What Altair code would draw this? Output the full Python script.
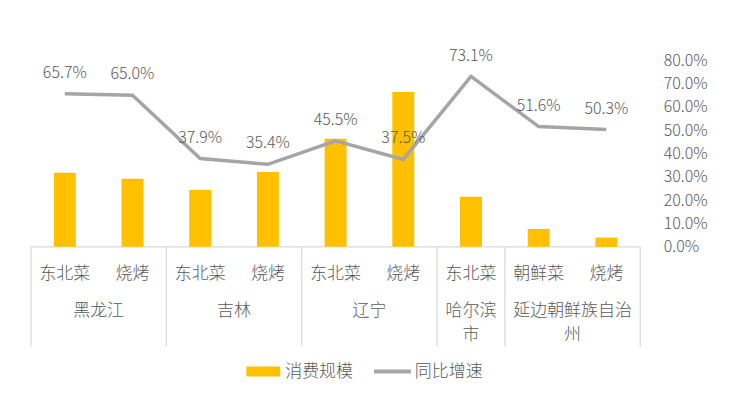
import altair as alt
import pandas as pd

# ---- data ----
sub_labels = ["东北菜", "烧烤", "东北菜", "烧烤", "东北菜", "烧烤", "东北菜", "朝鲜菜", "烧烤"]
group_of = ["黑龙江", "黑龙江", "吉林", "吉林", "辽宁", "辽宁", "哈尔滨市",
            "延边朝鲜族自治州", "延边朝鲜族自治州"]
group_display = {"黑龙江": "黑龙江", "吉林": "吉林", "辽宁": "辽宁",
                 "哈尔滨市": "哈尔滨\n市", "延边朝鲜族自治州": "延边朝鲜族自治\n州"}
scale_values = [74.3, 68.3, 57.0, 75.0, 108.3, 155.3, 50.3, 18.0, 9.3]   # 消费规模 (relative)
growth_values = [0.657, 0.650, 0.379, 0.354, 0.455, 0.375, 0.731, 0.516, 0.503]  # 同比增速
series_names = ["消费规模", "同比增速"]
pct_ticks = [0, 0.1, 0.2, 0.3, 0.4, 0.5, 0.6, 0.7, 0.8]

FONT = "Noto Sans CJK SC"
TXT = "#595959"
BAR = "#FFC000"
LINE = "#A5A5A5"
SEP = "#D9D9D9"

df = pd.DataFrame({
    "idx": list(range(len(sub_labels))),
    "sub": sub_labels,
    "group": group_of,
    "scale": scale_values,
    "growth": growth_values,
})

g = df.groupby("group", sort=False)["idx"].agg(["min", "max"]).reset_index()
g["center"] = (g["min"] + g["max"]) / 2
g["lo"] = g["min"] - 0.5
g["hi"] = g["max"] + 0.5
g["label"] = g["group"].map(group_display)
bounds = pd.DataFrame({"b": sorted(set(g["lo"]).union(set(g["hi"])))})

xs = alt.Scale(domain=[-0.5, len(sub_labels) - 0.5], nice=False, zero=False)
X = alt.X("idx:Q", scale=xs, axis=None)

bars = alt.Chart(df).mark_bar(color=BAR, size=22).encode(
    x=X,
    y=alt.Y("scale:Q", scale=alt.Scale(domain=[0, 187], nice=False), axis=None),
)

line = alt.Chart(df).mark_line(color=LINE, strokeWidth=3.5).encode(
    x=X,
    y=alt.Y("growth:Q", scale=alt.Scale(domain=[0, 0.8], nice=False),
            axis=alt.Axis(orient="right", format=".1%", values=pct_ticks, title=None,
                          ticks=False, domain=False, grid=False, labelPadding=18,
                          labelFontSize=16, labelColor=TXT, labelFont=FONT,
                          labelFontWeight=300)),
)

line_labels = alt.Chart(df).mark_text(dy=-21, fontSize=16, color=TXT, font=FONT,
                                      fontWeight=300).encode(
    x=X,
    y=alt.Y("growth:Q", scale=alt.Scale(domain=[0, 0.8], nice=False), axis=None),
    text=alt.Text("growth:Q", format=".1%"),
)

base_rule = alt.Chart(g).mark_rule(color=SEP, strokeWidth=1.2).encode(
    x=alt.X("lo:Q", scale=xs, axis=None), x2="hi:Q", y=alt.value(187),
)

seps = alt.Chart(bounds).mark_rule(color=SEP, strokeWidth=1.2).encode(
    x=alt.X("b:Q", scale=xs, axis=None), y=alt.value(187), y2=alt.value(287),
)

sub_text = alt.Chart(df).mark_text(fontSize=17, color=TXT, font=FONT, baseline="middle",
                                   fontWeight=300).encode(
    x=X, y=alt.value(214), text="sub:N",
)

group_text = alt.Chart(g).mark_text(fontSize=17, color=TXT, font=FONT, baseline="top",
                                    lineBreak="\n", lineHeight=24, fontWeight=300).encode(
    x=alt.X("center:Q", scale=xs, axis=None), y=alt.value(243), text="label:N",
)

leg = pd.DataFrame({"name": series_names})
leg_rect = alt.Chart(leg.iloc[[0]]).mark_rect(color=BAR).encode(
    x=alt.value(221), x2=alt.value(255), y=alt.value(307), y2=alt.value(317),
)
leg_line = alt.Chart(leg.iloc[[1]]).mark_rule(color=LINE, strokeWidth=4).encode(
    x=alt.value(349), x2=alt.value(386), y=alt.value(312),
)
leg_t1 = alt.Chart(leg.iloc[[0]]).mark_text(align="left", baseline="middle", fontSize=17,
                                           color=TXT, font=FONT, fontWeight=300).encode(
    x=alt.value(260), y=alt.value(313), text="name:N",
)
leg_t2 = alt.Chart(leg.iloc[[1]]).mark_text(align="left", baseline="middle", fontSize=17,
                                           color=TXT, font=FONT, fontWeight=300).encode(
    x=alt.value(390), y=alt.value(313), text="name:N",
)

chart = alt.layer(
    base_rule, seps, bars, line, line_labels, sub_text, group_text,
    leg_rect, leg_line, leg_t1, leg_t2,
).resolve_scale(y="independent").properties(
    width=621, height=187,
    autosize=alt.AutoSizeParams(type="none"),
    padding={"left": 18, "top": 52, "right": 80, "bottom": 140},
    background="white",
).configure_view(stroke=None)

chart.save("out.html", embed_options={"renderer": "svg", "actions": False})
